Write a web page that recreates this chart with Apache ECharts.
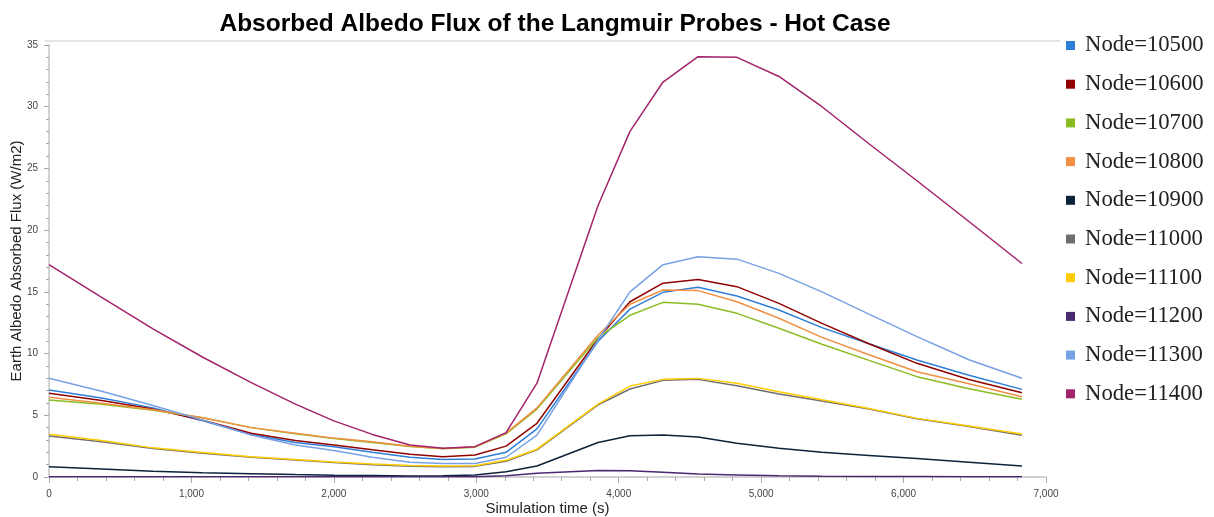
<!DOCTYPE html>
<html>
<head>
<meta charset="utf-8">
<script src="https://cdn.jsdelivr.net/npm/echarts@6/dist/echarts.min.js"></script>
<style>
html,body{margin:0;padding:0;background:#fff;}
#chart{width:1214px;height:517px;}
</style>
</head>
<body>
<div id="chart"></div>
<script>
const titleText = 'Absorbed Albedo Flux of the Langmuir Probes - Hot Case';
const xAxisName = 'Simulation time (s)';
const yAxisName = 'Earth Albedo Absorbed Flux (W/m2)';

// Simulation times (s)
const times = [0, 370, 730, 1080, 1420, 1730, 2000, 2270, 2535, 2766, 2991, 3209, 3426, 3855, 4079, 4311, 4557, 4830, 5125, 5427, 5757, 6094, 6459, 6831];

const nodeNames = ['Node=10500','Node=10600','Node=10700','Node=10800','Node=10900','Node=11000','Node=11100','Node=11200','Node=11300','Node=11400'];

const node10500 = [7.05, 6.4, 5.6, 4.55, 3.45, 2.8, 2.45, 2.0, 1.6, 1.42, 1.45, 2.0, 3.9, 11.0, 13.6, 14.96, 15.37, 14.66, 13.53, 12.1, 10.8, 9.48, 8.25, 7.1];
const node10600 = [6.78, 6.2, 5.5, 4.6, 3.55, 2.95, 2.6, 2.2, 1.85, 1.65, 1.78, 2.5, 4.35, 11.2, 14.2, 15.7, 16.0, 15.42, 14.07, 12.45, 10.8, 9.21, 7.9, 6.83];
const node10700 = [6.24, 5.9, 5.4, 4.8, 4.0, 3.5, 3.12, 2.8, 2.48, 2.28, 2.42, 3.5, 5.5, 11.3, 13.1, 14.15, 14.0, 13.26, 12.05, 10.76, 9.45, 8.13, 7.15, 6.3];
const node10800 = [6.46, 5.97, 5.45, 4.8, 4.0, 3.55, 3.15, 2.85, 2.5, 2.3, 2.45, 3.55, 5.6, 11.5, 14.0, 15.15, 15.1, 14.2, 12.86, 11.31, 9.9, 8.53, 7.55, 6.51];
const node10900 = [0.84, 0.65, 0.47, 0.35, 0.27, 0.2, 0.15, 0.12, 0.09, 0.1, 0.16, 0.43, 0.89, 2.8, 3.35, 3.4, 3.25, 2.73, 2.32, 2.0, 1.75, 1.5, 1.2, 0.89];
const node11000 = [3.32, 2.85, 2.3, 1.92, 1.6, 1.37, 1.17, 1.0, 0.88, 0.84, 0.86, 1.28, 2.2, 5.85, 7.13, 7.83, 7.91, 7.4, 6.72, 6.15, 5.5, 4.72, 4.1, 3.38];
const node11100 = [3.46, 2.95, 2.36, 1.98, 1.65, 1.42, 1.22, 1.05, 0.93, 0.89, 0.92, 1.35, 2.25, 5.9, 7.37, 7.91, 7.99, 7.59, 6.91, 6.25, 5.55, 4.75, 4.13, 3.48];
const node11200 = [0.02, 0.02, 0.02, 0.02, 0.02, 0.02, 0.02, 0.02, 0.02, 0.02, 0.03, 0.1, 0.3, 0.52, 0.5, 0.38, 0.25, 0.17, 0.1, 0.07, 0.05, 0.04, 0.03, 0.02];
const node11300 = [8.0, 6.95, 5.8, 4.6, 3.4, 2.6, 2.15, 1.6, 1.2, 1.1, 1.1, 1.6, 3.4, 11.1, 15.0, 17.2, 17.85, 17.65, 16.5, 15.0, 13.2, 11.37, 9.5, 8.0];
const node11400 = [17.2, 14.55, 12.0, 9.7, 7.65, 5.9, 4.55, 3.45, 2.6, 2.32, 2.46, 3.6, 7.6, 22.0, 28.0, 32.0, 34.05, 34.0, 32.45, 30.0, 27.0, 24.0, 20.7, 17.3];

const allValues = [node10500, node10600, node10700, node10800, node10900, node11000, node11100, node11200, node11300, node11400];
const colors = ['#2f7ed8', '#910000', '#8bbc21', '#f28f43', '#0d233a', '#6e6e6e', '#ffcc00', '#492970', '#77a1e5', '#a3236b'];

const yTicks = {min: 0, max: 35, interval: 5};
const xTicks = {min: 0, max: 7000, interval: 1000};

const chart = echarts.init(document.getElementById('chart'), null, {renderer: 'canvas'});

const series = nodeNames.map((name, i) => ({
  name: name,
  type: 'line',
  data: times.map((t, j) => [t, allValues[i][j]]),
  showSymbol: false,
  symbol: 'none',
  lineStyle: {width: 1.5, color: colors[i]},
  itemStyle: {color: colors[i]},
  z: 2 + i
}));

chart.setOption({
  animation: false,
  backgroundColor: '#fff',
  title: {
    text: titleText,
    left: 550,
    textAlign: 'center',
    top: 7,
    textStyle: {fontFamily: 'Liberation Sans, Arial, sans-serif', fontSize: 24.5, fontWeight: 'bold', color: '#000'}
  },
  legend: {
    orient: 'vertical',
    left: 1066,
    top: 34,
    padding: 0,
    icon: 'rect',
    itemWidth: 9,
    itemHeight: 9,
    itemGap: 15.7,
    data: nodeNames,
    textStyle: {fontFamily: 'Liberation Serif, Times New Roman, serif', fontSize: 22.7, lineHeight: 21, color: '#222', padding: [0, 0, 0, 5]}
  },
  graphic: [{
    type: 'line',
    shape: {x1: 45, y1: 41, x2: 1060, y2: 41},
    style: {stroke: '#dcdcdc', lineWidth: 1.5},
    silent: true
  }],
  grid: {left: 49, right: 168, top: 45, bottom: 40, containLabel: false, outerBoundsMode: 'none'},
  xAxis: {
    type: 'value',
    min: xTicks.min, max: xTicks.max, interval: xTicks.interval,
    offset: 6,
    name: xAxisName,
    nameLocation: 'middle',
    nameGap: 18,
    nameMoveOverlap: false,
    nameTextStyle: {fontFamily: 'Liberation Sans, Arial, sans-serif', fontSize: 15, color: '#222'},
    axisLine: {show: true, lineStyle: {color: '#c4c4c4', width: 1.5}},
    axisTick: {show: true, length: 6, lineStyle: {color: '#aaa'}},
    minorTick: {show: true, splitNumber: 5, length: 4, lineStyle: {color: '#aaa'}},
    splitLine: {show: false},
    axisLabel: {
      margin: 6,
      fontFamily: 'Liberation Sans, Arial, sans-serif', fontSize: 10, color: '#444',
      formatter: v => v.toLocaleString('en-US')
    }
  },
  yAxis: {
    type: 'value',
    min: yTicks.min, max: yTicks.max, interval: yTicks.interval,
    offset: 4,
    name: yAxisName,
    nameLocation: 'middle',
    nameGap: 21,
    nameMoveOverlap: false,
    nameTextStyle: {fontFamily: 'Liberation Sans, Arial, sans-serif', fontSize: 15, color: '#222'},
    axisLine: {show: true, lineStyle: {color: '#c4c4c4', width: 1.5}},
    axisTick: {show: true, length: 5, lineStyle: {color: '#aaa'}},
    minorTick: {show: true, splitNumber: 5, length: 3, lineStyle: {color: '#aaa'}},
    splitLine: {show: false},
    axisLabel: {margin: 7, fontFamily: 'Liberation Sans, Arial, sans-serif', fontSize: 10, color: '#444'}
  },
  series: series
});
</script>
</body>
</html>
